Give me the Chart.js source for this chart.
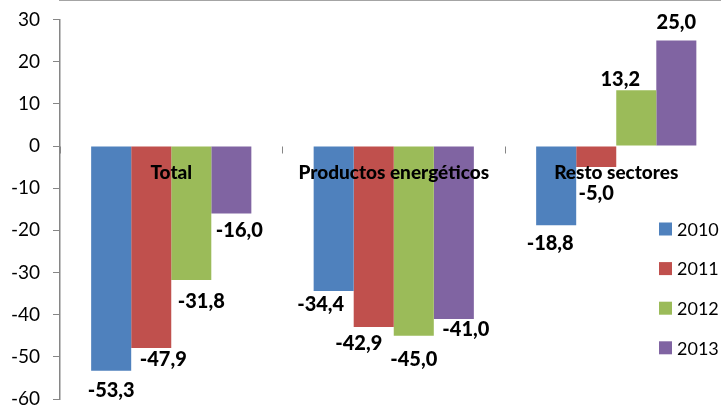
<!DOCTYPE html>
<html>
<head>
<meta charset="utf-8">
<script src="https://cdn.jsdelivr.net/npm/chart.js@4.4.1/dist/chart.umd.min.js"></script>
<style>
  html, body { margin: 0; padding: 0; background: #fff; overflow: hidden; width: 721px; height: 406px; }
  #wrap { position: relative; width: 740px; height: 406px; }
</style>
</head>
<body>
<div id="wrap"><canvas id="c"></canvas></div>
<script>
// Categories and yearly series (variation, %)
const categories = ['Total', 'Productos energéticos', 'Resto sectores'];
const years = ['2010', '2011', '2012', '2013'];
const values2010 = [-53.3, -34.4, -18.8];
const values2011 = [-47.9, -42.9, -5.0];
const values2012 = [-31.8, -45.0, 13.2];
const values2013 = [-16.0, -41.0, 25.0];
const yTicks = [30, 20, 10, 0, -10, -20, -30, -40, -50, -60];

const colors = ['#4F81BD', '#C0504D', '#9BBB59', '#8064A2'];

// Hand placement of each value label relative to its bar end [dx, dy]
const labelNudge = [
  [[0, 20], [-13, 13], [-6, 18]],
  [[12, 12], [-15, 17], [0, 26]],
  [[10, 21], [0, 24], [-16, -11]],
  [[8, 17], [12, 11], [0, -18]]
];

const FONT = 'Lato, "Open Sans", sans-serif';

const valueLabels = {
  id: 'valueLabels',
  afterDatasetsDraw(chart) {
    const ctx = chart.ctx;
    ctx.save();
    ctx.font = '900 20px ' + FONT;
    ctx.fillStyle = '#000';
    ctx.textAlign = 'center';
    ctx.textBaseline = 'middle';
    chart.data.datasets.forEach((ds, di) => {
      chart.getDatasetMeta(di).data.forEach((bar, i) => {
        const v = ds.data[i];
        const [dx, dy] = labelNudge[di][i];
        ctx.fillText(v.toFixed(1).replace('.', ','), bar.x + dx, bar.y + dy);
      });
    });
    ctx.restore();
  }
};

const sideLegend = {
  id: 'sideLegend',
  afterDraw(chart) {
    const ctx = chart.ctx;
    ctx.save();
    ctx.font = '18px ' + FONT;
    ctx.textBaseline = 'middle';
    ctx.textAlign = 'left';
    chart.data.datasets.forEach((ds, i) => {
      const y = 229 + i * 39.6;
      ctx.fillStyle = ds.backgroundColor;
      ctx.fillRect(659, y - 6.5, 13, 13);
      ctx.fillStyle = '#000';
      ctx.fillText(ds.label, 677, y + 1);
    });
    ctx.restore();
  }
};

new Chart(document.getElementById('c'), {
  type: 'bar',
  data: {
    labels: categories,
    datasets: [values2010, values2011, values2012, values2013].map((d, i) => ({
      label: years[i],
      data: d,
      backgroundColor: colors[i],
      categoryPercentage: 0.72,
      barPercentage: 1.0
    }))
  },
  options: {
    responsive: true,
    maintainAspectRatio: false,
    animation: false,
    layout: { padding: { left: 0, right: 12.5, top: 19.5, bottom: 7 } },
    plugins: { legend: { display: false }, tooltip: { enabled: false } },
    scales: {
      x: {
        position: { y: 0 },
        offset: true,
        grid: { display: true, offset: true, drawOnChartArea: false, drawTicks: true, tickLength: 7, color: '#868686', z: 1 },
        border: { display: true, color: '#868686', width: 1.5 },
        ticks: { z: 1, color: '#000', font: { family: FONT, size: 19, weight: '900' }, padding: 8, maxRotation: 0, autoSkip: false }
      },
      y: {
        min: -60,
        max: 30,
        afterBuildTicks(scale) { scale.ticks = yTicks.map(v => ({ value: v })); },
        afterFit(scale) { scale.width = 60; scale.paddingTop = 0; scale.paddingBottom = 0; },
        grid: { display: true, drawOnChartArea: false, drawTicks: true, tickLength: 7, color: '#868686' },
        border: { display: true, color: '#868686', width: 1.5 },
        ticks: { color: '#000', font: { family: FONT, size: 19 }, padding: 13 }
      }
    }
  },
  plugins: [valueLabels, sideLegend]
});
</script>
</body>
</html>
